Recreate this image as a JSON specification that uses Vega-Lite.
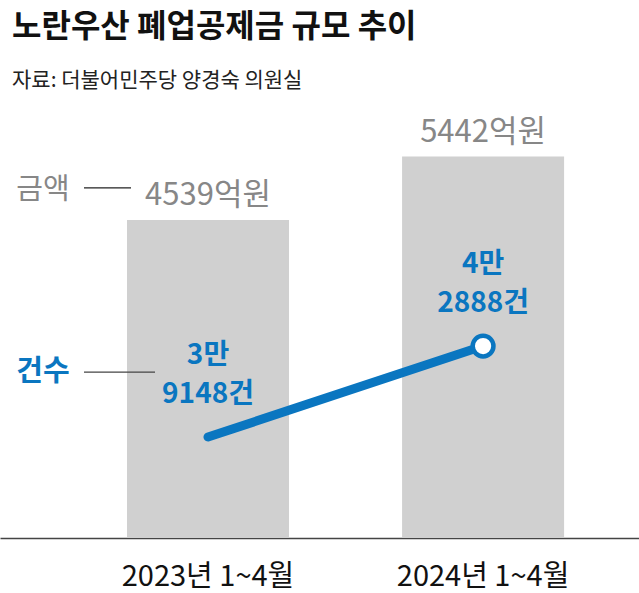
{
  "$schema": "https://vega.github.io/schema/vega-lite/v6.json",
  "autosize": {"type": "none"},
  "padding": {"left": 0, "top": 100, "right": 0, "bottom": 55},
  "width": 639,
  "height": 438,
  "background": "white",
  "config": {"view": {"stroke": null}, "font": "Noto Sans CJK KR"},
  "title": {
    "text": "노란우산 폐업공제금 규모 추이",
    "subtitle": "자료: 더불어민주당 양경숙 의원실",
    "anchor": "start",
    "frame": "group",
    "dx": 12,
    "offset": 8,
    "font": "Noto Sans CJK KR",
    "fontSize": 32,
    "fontWeight": "bold",
    "color": "#111111",
    "subtitleFont": "Noto Sans CJK KR",
    "subtitleFontSize": 21,
    "subtitleColor": "#222222",
    "subtitlePadding": 26
  },
  "data": {
    "values": [
      {"period": "2023년 1~4월", "amount": 4539, "count": 39148, "amountLabel": "4539억원", "countLabel": ["3만", "9148건"]},
      {"period": "2024년 1~4월", "amount": 5442, "count": 42888, "amountLabel": "5442억원", "countLabel": ["4만", "2888건"]}
    ]
  },
  "encoding": {
    "x": {
      "field": "period",
      "type": "nominal",
      "sort": null,
      "scale": {"paddingInner": 0.411, "paddingOuter": 0.367, "align": 0.629},
      "axis": {
        "title": null,
        "labelAngle": 0,
        "ticks": false,
        "tickSize": 0,
        "domainColor": "#444444",
        "domainWidth": 1.5,
        "labelPadding": 24,
        "labelFont": "Noto Sans CJK KR",
        "labelFontSize": 29,
        "labelColor": "#111111",
        "labelBaseline": "top"
      }
    }
  },
  "layer": [
    {
      "mark": {"type": "bar", "color": "#d0d0d0"},
      "encoding": {
        "y": {"field": "amount", "type": "quantitative", "scale": {"domain": [0, 6250]}, "axis": null}
      }
    },
    {
      "mark": {"type": "text", "baseline": "bottom", "dy": -8, "fontSize": 31, "color": "#878787", "font": "Noto Sans CJK KR"},
      "encoding": {
        "y": {"field": "amount", "type": "quantitative", "scale": {"domain": [0, 6250]}, "axis": null},
        "text": {"field": "amountLabel"}
      }
    },
    {
      "transform": [{"filter": "datum.amount == 4539"}],
      "mark": {"type": "text", "baseline": "middle", "dx": -165, "dy": -30, "fontSize": 29, "color": "#878787", "font": "Noto Sans CJK KR"},
      "encoding": {
        "y": {"field": "amount", "type": "quantitative", "scale": {"domain": [0, 6250]}, "axis": null},
        "text": {"value": "금액"}
      }
    },
    {
      "transform": [{"filter": "datum.amount == 4539"}],
      "mark": {"type": "rule", "color": "#222222", "strokeWidth": 1.2, "xOffset": -124, "x2Offset": -77, "yOffset": -32},
      "encoding": {
        "x2": {"field": "period"},
        "y": {"field": "amount", "type": "quantitative", "scale": {"domain": [0, 6250]}, "axis": null}
      }
    },
    {
      "mark": {"type": "line", "color": "#0a76c0", "strokeWidth": 9, "strokeCap": "round"},
      "encoding": {
        "y": {"field": "count", "type": "quantitative", "scale": {"domain": [35000, 53000]}, "axis": null}
      }
    },
    {
      "transform": [{"filter": "datum.count == 42888"}],
      "mark": {"type": "point", "shape": "circle", "filled": true, "fill": "white", "stroke": "#0a76c0", "strokeWidth": 4.5, "size": 430, "opacity": 1},
      "encoding": {
        "y": {"field": "count", "type": "quantitative", "scale": {"domain": [35000, 53000]}, "axis": null}
      }
    },
    {
      "mark": {"type": "text", "baseline": "middle", "dy": -81, "fontSize": 28, "fontWeight": "bold", "lineHeight": 39, "color": "#0a76c0", "font": "Noto Sans CJK KR"},
      "encoding": {
        "y": {"field": "count", "type": "quantitative", "scale": {"domain": [35000, 53000]}, "axis": null},
        "text": {"field": "countLabel"}
      }
    },
    {
      "transform": [{"filter": "datum.count == 39148"}],
      "mark": {"type": "text", "baseline": "middle", "dx": -165, "dy": -65, "fontSize": 29, "fontWeight": "bold", "color": "#0a76c0", "font": "Noto Sans CJK KR"},
      "encoding": {
        "y": {"field": "count", "type": "quantitative", "scale": {"domain": [35000, 53000]}, "axis": null},
        "text": {"value": "건수"}
      }
    },
    {
      "transform": [{"filter": "datum.count == 39148"}],
      "mark": {"type": "rule", "color": "#444444", "strokeWidth": 1.2, "xOffset": -124, "x2Offset": -53, "yOffset": -65},
      "encoding": {
        "x2": {"field": "period"},
        "y": {"field": "count", "type": "quantitative", "scale": {"domain": [35000, 53000]}, "axis": null}
      }
    }
  ],
  "resolve": {"scale": {"y": "independent"}}
}
